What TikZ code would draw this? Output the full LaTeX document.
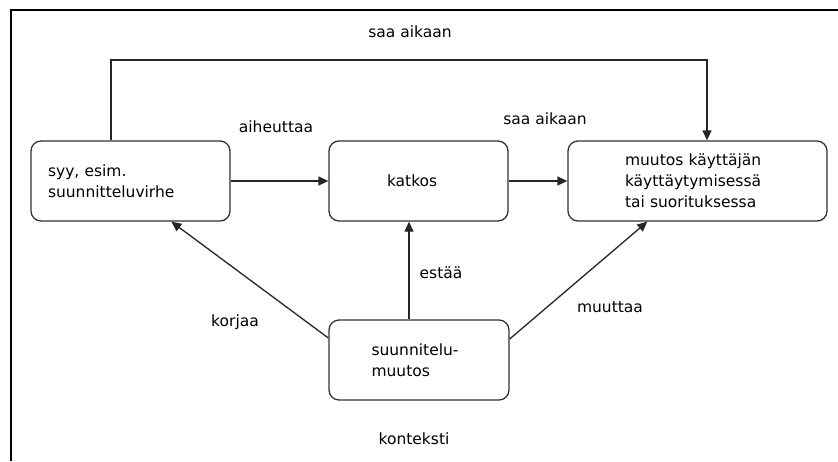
\documentclass[tikz,border=0pt]{standalone}
\usepackage{fontspec}
\setmainfont{DejaVu Sans}
\usetikzlibrary{arrows.meta,calc}
\begin{document}
\begin{tikzpicture}[x=1pt,y=-1pt,
  font=\fontsize{15.5}{21}\selectfont,
  box/.style={draw=black!80, line width=1.3pt, rounded corners=10pt,
    minimum height=80pt, inner ysep=0pt, align=left, anchor=center},
  conn/.style={draw=black!85, line width=1.3pt, -{Triangle[length=10pt,width=9pt]}},
  lbl/.style={anchor=base, inner sep=0pt}]
\useasboundingbox (0,0) rectangle (838,461);
\fill[white] (0,0) rectangle (838,461);
\draw[line width=2pt] (11,461) -- (11,10) -- (838,10);

\node[box, text width=165pt, inner xsep=17pt] (A) at (130.5,181) {syy, esim.\\suunnitteluvirhe};
\node[box, text width=63pt, inner xsep=58pt] (B) at (418.5,181) {katkos};
\node[box, text width=145pt, inner xsep=57pt] (C) at (697.5,181) {muutos käyttäjän\\käyttäytymisessä\\tai suorituksessa};
\node[box, text width=95pt, inner xsep=42.5pt] (D) at (419,360) {suunnitelu-\\muutos};

\coordinate (t1) at (111,60);
\coordinate (t2) at (707,60);
\coordinate (e) at (409,270);

\draw[conn] (A.north -| t1) -- (t1) -- (t2) -- (C.north -| t2);
\draw[conn] (A.east) -- (B.west);
\draw[conn] (B.east) -- (C.west);
\draw[conn] (D.north -| e) -- (B.south -| e);
\draw[conn] ([yshift=22pt]D.west) -- ([xshift=141pt]A.south west);
\draw[conn] ([yshift=21pt]D.east) -- ([xshift=80pt]C.south west);

\node[lbl] (l1) at (410,37.3) {saa aikaan};
\node[lbl] (l2) at (276,132.3) {aiheuttaa};
\node[lbl] (l3) at (545,124) {saa aikaan};
\node[lbl] (l4) at (235,326) {korjaa};
\node[lbl] (l5) at (441,278) {estää};
\node[lbl] (l6) at (610,312.7) {muuttaa};
\node[lbl] (l7) at (414,444) {konteksti};
\end{tikzpicture}
\end{document}
